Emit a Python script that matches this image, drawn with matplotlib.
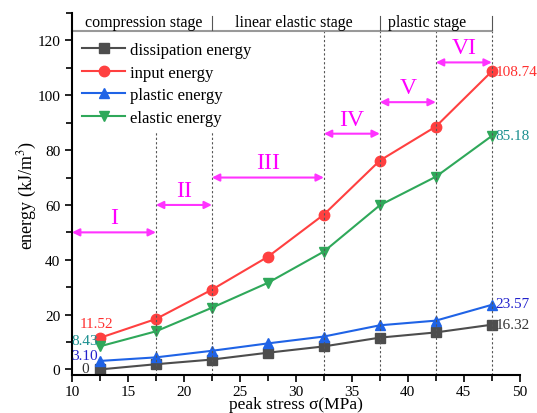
import matplotlib
matplotlib.use('Agg')
import matplotlib.pyplot as plt
from matplotlib.ticker import MultipleLocator

plt.rcParams['font.family'] = ['Liberation Serif', 'DejaVu Serif']
plt.rcParams['mathtext.fontset'] = 'stix'

# peak stress levels (MPa)
stress = [12.5, 17.5, 22.5, 27.5, 32.5, 37.5, 42.5, 47.5]
# energies (kJ/m^3)
dissipation_energy = [0, 1.9, 3.6, 6.1, 8.4, 11.6, 13.5, 16.32]
input_energy = [11.52, 18.4, 29.1, 41.1, 56.5, 76.2, 88.6, 108.74]
plastic_energy = [3.10, 4.4, 6.8, 9.5, 12.0, 16.1, 17.8, 23.57]
elastic_energy = [8.43, 13.9, 22.5, 31.6, 43.0, 59.9, 70.3, 85.18]

# stage boundaries and arrow heights
boundaries = [10, 17.5, 22.5, 32.5, 37.5, 42.5, 47.5]
roman = ['I', 'II', 'III', 'IV', 'V', 'VI']
arrow_y = [50, 60, 70, 86, 97.5, 112]

stages = ['compression stage', 'linear elastic stage', 'plastic stage']
stage_x = [16.4, 29.8, 41.7]
stage_sep = [22.5, 37.5, 47.5]

fig = plt.figure(figsize=(5.37, 4.14), dpi=100)
ax = fig.add_axes([0.134, 0.092, 0.834, 0.874])

ax.plot(stress, dissipation_energy, '-s', color='#4d4d4d', lw=1.5, ms=6.5, label='dissipation energy')
ax.plot(stress, input_energy, '-o', color='#ff4040', lw=1.5, ms=7.5, label='input energy')
ax.plot(stress, plastic_energy, '-^', color='#1f63e6', lw=1.5, ms=7.5, label='plastic energy')
ax.plot(stress, elastic_energy, '-v', color='#2fa85a', lw=1.5, ms=7.5, label='elastic energy')

# dashed stage lines
for xb in boundaries[1:]:
    top = 87 if xb < 30 else 123.6
    ax.plot([xb, xb], [-2, top], ls=(0, (2, 2)), color='#555555', lw=0.8)

# double arrows with roman numerals
for i in range(len(roman)):
    x0, x1 = boundaries[i], boundaries[i + 1]
    ax.annotate('', xy=(x1, arrow_y[i]), xytext=(x0, arrow_y[i]),
                arrowprops=dict(arrowstyle='<|-|>', color='#ff33ff', lw=1.5,
                                mutation_scale=11, shrinkA=0, shrinkB=0))
    ax.text((x0 + x1) / 2, arrow_y[i] + 1.5, roman[i], color='#ff00ff',
            fontsize=17, ha='center', va='bottom')

# stage header
ax.plot([10, 47.5], [123.6, 123.6], color='#999999', lw=1.5, clip_on=False)
for s, xs in zip(stages, stage_x):
    ax.text(xs, 126.8, s, fontsize=11.5, ha='center', va='center')
for xs in stage_sep:
    ax.plot([xs, xs], [124, 129], color='#555555', lw=0.8, clip_on=False)

# value labels
ax.text(47.85, input_energy[-1], '108.74', color='#ff3030', fontsize=11, va='center')
ax.text(47.85, elastic_energy[-1], '85.18', color='#1a8f8f', fontsize=11, va='center')
ax.text(47.85, plastic_energy[-1] + 0.5, '23.57', color='#2222cc', fontsize=11, va='center')
ax.text(47.85, dissipation_energy[-1], '16.32', color='#333333', fontsize=11, va='center')
ax.text(12.2, 16.8, '11.52', color='#ff3030', fontsize=11, ha='center', va='center')
ax.text(12.3, 10.7, '8.43', color='#1a8f8f', fontsize=11, ha='right', va='center')
ax.text(12.3, 5.0, '3.10', color='#2222cc', fontsize=11, ha='right', va='center')
ax.text(11.5, 0.4, '0', color='#333333', fontsize=11, ha='right', va='center')

ax.set_xlim(10, 50)
ax.set_ylim(-2, 130)
ax.xaxis.set_major_locator(MultipleLocator(5))
ax.xaxis.set_minor_locator(MultipleLocator(2.5))
ax.yaxis.set_major_locator(MultipleLocator(20))
ax.yaxis.set_minor_locator(MultipleLocator(10))
ax.set_yticks([0, 20, 40, 60, 80, 100, 120])
ax.tick_params(which='both', direction='out', width=1.2, labelsize=11)
ax.tick_params(which='major', length=5)
ax.tick_params(which='minor', length=4)
ax.tick_params(axis='x', pad=2)
for side in ['top', 'right']:
    ax.spines[side].set_visible(False)
for side in ['left', 'bottom']:
    ax.spines[side].set_linewidth(1.5)

ax.set_xlabel('peak stress σ(MPa)', fontsize=12.5, labelpad=-1)
ax.set_ylabel('energy (kJ/m$^3$)', fontsize=13, labelpad=-1)

ax.legend(loc='upper left', bbox_to_anchor=(0.0, 0.948), frameon=False, fontsize=12,
          handlelength=2.6, handletextpad=0.3, labelspacing=0.4, borderaxespad=0.2)

fig.savefig('out.png', dpi=100)
